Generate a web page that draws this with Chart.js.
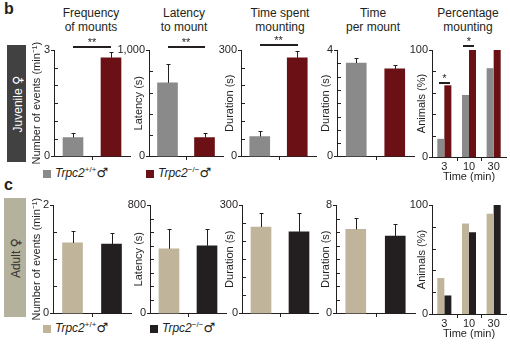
<!DOCTYPE html>
<html>
<head>
<meta charset="utf-8">
<script src="https://cdn.jsdelivr.net/npm/chart.js@4.4.1/dist/chart.umd.min.js"></script>
<style>
  body { margin: 0; background: #fff; }
  #fig { position: relative; width: 510px; height: 346px; overflow: hidden;
         font-family: "Liberation Sans", Arial, sans-serif; color: #231f20; }
  .letter { position: absolute; font-weight: bold; font-size: 16px; }
  .ptitle { position: absolute; width: 100px; text-align: center; font-size: 12px; line-height: 14px; }
  .side { position: absolute; }
  .side span.lbl { position: absolute; left: 50%; top: 50%; white-space: nowrap; font-size: 12px;
               transform: translate(-50%, -50%) rotate(-90deg); }
  .sex { font-family: "DejaVu Sans", sans-serif; font-size: 13px; }
  .key { position: absolute; font-size: 12px; line-height: 14px; white-space: nowrap; }
  .key .sw { display: inline-block; width: 8px; height: 8px; margin-right: 4px; vertical-align: -1px; }
  .key sup { font-size: 8px; vertical-align: 5px; line-height: 0; }
</style>
</head>
<body>
<div id="fig">
  <div class="letter" style="left:4px;top:0px">b</div>
  <div class="letter" style="left:4px;top:176px">c</div>

  <div class="ptitle" style="left:41px;top:6px">Frequency<br>of mounts</div>
  <div class="ptitle" style="left:134px;top:6px">Latency<br>to mount</div>
  <div class="ptitle" style="left:230px;top:6px">Time spent<br>mounting</div>
  <div class="ptitle" style="left:323px;top:6px">Time<br>per mount</div>
  <div class="ptitle" style="left:418px;top:6px">Percentage<br>mounting</div>

  <div class="side" style="left:7px;top:45px;width:19px;height:117px;background:#414141;color:#fff"><span class="lbl">Juvenile <span class="sex">♀</span></span></div>
  <div class="side" style="left:4px;top:198px;width:22px;height:119px;background:#b4b19c;color:#333"><span class="lbl">Adult <span class="sex">♀</span></span></div>

  <div class="key" style="left:43px;top:166px"><span class="sw" style="background:#8a8a8a"></span><i>Trpc2</i><sup>+/+</sup><span class="sex">♂</span></div>
  <div class="key" style="left:146px;top:166px"><span class="sw" style="background:#6b1116"></span><i>Trpc2</i><sup>−/−</sup><span class="sex">♂</span></div>
  <div class="key" style="left:43px;top:321px"><span class="sw" style="background:#c0b49a"></span><i>Trpc2</i><sup>+/+</sup><span class="sex">♂</span></div>
  <div class="key" style="left:150px;top:321px"><span class="sw" style="background:#231f20"></span><i>Trpc2</i><sup>−/−</sup><span class="sex">♂</span></div>
</div>

<script>
// groups and time points
const genotypes = ["Trpc2+/+", "Trpc2-/-"];
const timePoints = ["3", "10", "30"];

// juvenile females: mean and s.e.m. per genotype
const juvFreq = [0.53, 2.78];
const juvFreqErr = [0.14, 0.16];
const juvLatency = [692, 178];
const juvLatencyErr = [177, 46];
const juvDuration = [56, 278];
const juvDurationErr = [17, 19];
const juvPerMount = [3.51, 3.29];
const juvPerMountErr = [0.19, 0.15];
const juvPctWT = [17, 58, 83];
const juvPctKO = [67, 100, 100];

// adult females
const adFreq = [1.30, 1.28];
const adFreqErr = [0.22, 0.21];
const adLatency = [477, 499];
const adLatencyErr = [147, 125];
const adDuration = [239, 226];
const adDurationErr = [39, 52];
const adPerMount = [6.2, 5.7];
const adPerMountErr = [0.85, 0.9];
const adPctWT = [33, 83, 92];
const adPctKO = [17, 75, 100];

const ink = "#231f20";
const juvColors = ["#8a8a8a", "#6b1116"];
const adColors = ["#c0b49a", "#231f20"];
const fontFamily = '"Liberation Sans", Arial, sans-serif';

// ---- error bars (upward only, small cap) ----
const errorBars = {
  id: "errorBars",
  afterDatasetsDraw(chart) {
    const { ctx, scales: { y } } = chart;
    ctx.save();
    ctx.strokeStyle = ink;
    ctx.lineWidth = 1;
    chart.data.datasets.forEach((ds, d) => {
      if (!ds.errors) return;
      chart.getDatasetMeta(d).data.forEach((bar, i) => {
        const x = Math.round(bar.x) + 0.5;
        const top = Math.round(y.getPixelForValue(ds.data[i] + ds.errors[i])) + 0.5;
        ctx.beginPath();
        ctx.moveTo(x, bar.y);
        ctx.lineTo(x, top);
        ctx.moveTo(x - 2, top);
        ctx.lineTo(x + 2, top);
        ctx.stroke();
      });
    });
    ctx.restore();
  }
};

// ---- tick marks: labelled ends point out, the rest point in ----
const axisTicks = {
  id: "axisTicks",
  afterDraw(chart) {
    const { ctx, chartArea: a, scales: { x, y } } = chart;
    const left = Math.round(a.left);
    const bottom = Math.round(a.bottom);
    ctx.save();
    ctx.strokeStyle = ink;
    ctx.lineWidth = 1;
    ctx.beginPath();
    y.ticks.forEach((t, i) => {
      const py = Math.round(y.getPixelForTick(i)) + 0.5;
      const outer = i === 0 || i === y.ticks.length - 1;
      ctx.moveTo(outer ? left - 3 : left + 1, py);
      ctx.lineTo(outer ? left + 1 : left + 4, py);
    });
    for (let i = 1; i < x.ticks.length; i++) {
      const px = Math.round((x.getPixelForTick(i - 1) + x.getPixelForTick(i)) / 2) + 0.5;
      ctx.moveTo(px, bottom);
      ctx.lineTo(px, bottom + 4);
    }
    ctx.stroke();
    ctx.restore();
  }
};

// ---- significance bars with stars ----
const sigMarks = {
  id: "sigMarks",
  afterDraw(chart, args, opts) {
    const marks = opts.marks || [];
    if (!marks.length) return;
    const { ctx, scales: { y } } = chart;
    ctx.save();
    ctx.fillStyle = ink;
    ctx.font = "11px " + fontFamily;
    ctx.textAlign = "center";
    ctx.textBaseline = "alphabetic";
    marks.forEach(m => {
      const a = chart.getDatasetMeta(m.from[0]).data[m.from[1]];
      const b = chart.getDatasetMeta(m.to[0]).data[m.to[1]];
      const py = Math.round(y.getPixelForValue(m.level));
      ctx.fillRect(Math.round(a.x - m.pad), py - 1, Math.round(b.x - a.x + 2 * m.pad), 2);
      ctx.fillText(m.text, (a.x + b.x) / 2, py - 1);
    });
    ctx.restore();
  }
};

const fig = document.getElementById("fig");

function addPanel(p) {
  const WY = 40, PAD_TOP = 14, PAD_RIGHT = 4;
  const HX = p.timeAxis ? 30 : 10;
  const w = WY + (p.right - p.axisX) + PAD_RIGHT;
  const h = PAD_TOP + (p.bottom - p.top) + HX;
  const canvas = document.createElement("canvas");
  canvas.width = w;
  canvas.height = h;
  canvas.style.cssText = `position:absolute;left:${p.axisX - WY}px;top:${p.top - PAD_TOP}px;width:${w}px;height:${h}px`;
  fig.appendChild(canvas);

  const font = { family: fontFamily, size: 11 };

  new Chart(canvas, {
    type: "bar",
    data: { labels: p.labels, datasets: p.datasets },
    options: {
      responsive: false,
      animation: false,
      layout: { padding: { top: PAD_TOP, right: PAD_RIGHT, left: 0, bottom: 0 } },
      plugins: {
        legend: { display: false },
        tooltip: { enabled: false },
        sigMarks: { marks: p.sig || [] }
      },
      scales: {
        x: {
          offset: true,
          grid: { display: false, drawTicks: false, tickLength: 0 },
          border: { display: true, color: ink, width: 1 },
          ticks: { display: !!p.timeAxis, padding: 3, font, color: ink, maxRotation: 0, autoSkip: false },
          title: { display: !!p.timeAxis, text: "Time (min)", font, color: ink, padding: { top: 0, bottom: 3.4 } },
          afterFit(s) { s.height = HX; }
        },
        y: {
          min: 0,
          max: p.yMax,
          grid: { display: false, drawTicks: false, tickLength: 0 },
          border: { display: true, color: ink, width: 1 },
          ticks: {
            stepSize: p.yStep,
            autoSkip: false,
            padding: 4,
            font,
            color: ink,
            callback: (v, i, ticks) => (i === 0 || i === ticks.length - 1) ? v.toLocaleString("en-US") : ""
          },
          title: {
            display: true,
            text: p.yTitle,
            font,
            color: ink,
            padding: { top: p.titleX - (p.axisX - WY) - 6.6, bottom: 0 }
          },
          afterFit(s) { s.width = WY; }
        }
      }
    },
    plugins: [errorBars, axisTicks, sigMarks]
  });
}

function pairBars(values, errors, colors) {
  return [{ data: values, errors, backgroundColor: colors, barThickness: 20, borderWidth: 0 }];
}

function timeBars(wt, ko, colors) {
  return [
    { data: wt, backgroundColor: colors[0], categoryPercentage: 0.57, barPercentage: 1, borderWidth: 0 },
    { data: ko, backgroundColor: colors[1], categoryPercentage: 0.57, barPercentage: 1, borderWidth: 0 }
  ];
}

const pairSig = (level) => [{ from: [0, 0], to: [0, 1], level, text: "**", pad: 0 }];

// b: juvenile females
addPanel({ axisX: 54, right: 130, top: 50, bottom: 157, yMax: 3, yStep: 0.5, titleX: 37,
  yTitle: "Number of events (min⁻¹)", labels: genotypes,
  datasets: pairBars(juvFreq, juvFreqErr, juvColors), sig: pairSig(3.08) });
addPanel({ axisX: 149, right: 223, top: 50, bottom: 157, yMax: 1000, yStep: 200, titleX: 139,
  yTitle: "Latency (s)", labels: genotypes,
  datasets: pairBars(juvLatency, juvLatencyErr, juvColors), sig: pairSig(1028) });
addPanel({ axisX: 241, right: 316, top: 50, bottom: 157, yMax: 300, yStep: 50, titleX: 230,
  yTitle: "Duration (s)", labels: genotypes,
  datasets: pairBars(juvDuration, juvDurationErr, juvColors), sig: pairSig(314) });
addPanel({ axisX: 337, right: 414, top: 50, bottom: 157, yMax: 4, yStep: 0.5, titleX: 326,
  yTitle: "Duration (s)", labels: genotypes,
  datasets: pairBars(juvPerMount, juvPerMountErr, juvColors) });
addPanel({ axisX: 432, right: 506, top: 50, bottom: 157, yMax: 100, yStep: 20, titleX: 422,
  yTitle: "Animals (%)", labels: timePoints, timeAxis: true,
  datasets: timeBars(juvPctWT, juvPctKO, juvColors),
  sig: [
    { from: [0, 0], to: [1, 0], level: 69.2, text: "*", pad: 2 },
    { from: [0, 1], to: [1, 1], level: 103.7, text: "*", pad: 2 }
  ] });

// c: adult females
addPanel({ axisX: 53, right: 131, top: 205, bottom: 314, yMax: 2, yStep: 0.5, titleX: 37,
  yTitle: "Number of events (min⁻¹)", labels: genotypes,
  datasets: pairBars(adFreq, adFreqErr, adColors) });
addPanel({ axisX: 150, right: 226, top: 205, bottom: 314, yMax: 800, yStep: 100, titleX: 139,
  yTitle: "Latency (s)", labels: genotypes,
  datasets: pairBars(adLatency, adLatencyErr, adColors) });
addPanel({ axisX: 242, right: 318, top: 205, bottom: 314, yMax: 300, yStep: 50, titleX: 230,
  yTitle: "Duration (s)", labels: genotypes,
  datasets: pairBars(adDuration, adDurationErr, adColors) });
addPanel({ axisX: 336, right: 415, top: 205, bottom: 314, yMax: 8, yStep: 1, titleX: 326,
  yTitle: "Duration (s)", labels: genotypes,
  datasets: pairBars(adPerMount, adPerMountErr, adColors) });
addPanel({ axisX: 432, right: 506, top: 205, bottom: 314, yMax: 100, yStep: 20, titleX: 422,
  yTitle: "Animals (%)", labels: timePoints, timeAxis: true,
  datasets: timeBars(adPctWT, adPctKO, adColors) });
</script>
</body>
</html>
